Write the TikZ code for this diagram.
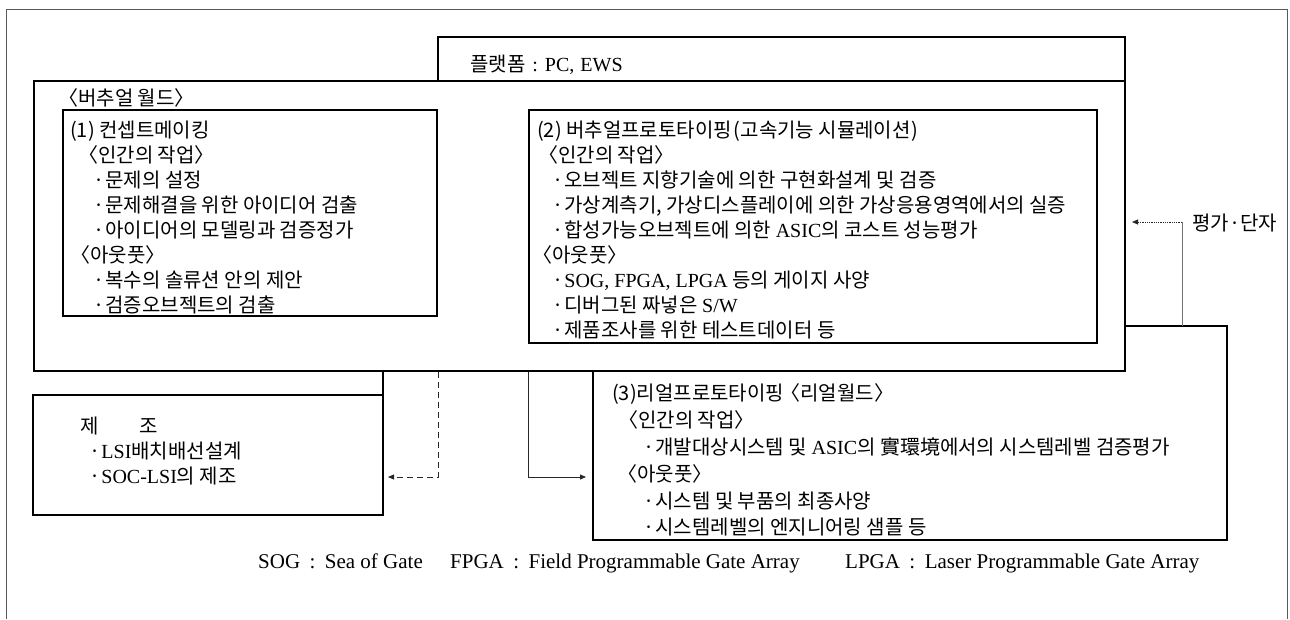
\documentclass[tikz,border=0pt]{standalone}
\usepackage{fontspec}
\setmainfont{Liberation Serif}
\newfontfamily\krf{Noto Sans CJK KR}
\newfontfamily\latf{Liberation Serif}
\usetikzlibrary{arrows.meta}
\newcommand\rmx[1]{{\latf\fontsize{20}{24}\selectfont #1}}
\newcommand\bul{·\hspace{1pt}}
\begin{document}
\begin{tikzpicture}[x=1pt,y=-1pt,
  boxline/.style={line width=2.5pt, line join=miter},
  frameline/.style={line width=1pt, black!65},
  conn/.style={line width=0.8pt, black!85},
  tip/.style={-{Triangle[length=6pt,width=5pt]}},
  txt/.style={anchor=base west, inner sep=0pt, font=\krf\fontsize{20}{24}\selectfont},
  legend/.style={anchor=base west, inner sep=0pt, font=\latf\fontsize{21}{24}\selectfont}
]
\useasboundingbox (0,0) rectangle (1290,619);
% outer frame (open at the bottom)
\draw[frameline] (6,619) -- (6,9) -- (1287,9) -- (1287,619);
% named corner coordinates
\coordinate (vwNW) at (34,81);   \coordinate (vwSE) at (1125,371);
\coordinate (plNW) at (438,37);  \coordinate (plSE) at (1125,81);
\coordinate (b1NW) at (63,110);  \coordinate (b1SE) at (437,316);
\coordinate (b2NW) at (529,110); \coordinate (b2SE) at (1097,343);
\coordinate (mfNW) at (33,395);  \coordinate (mfSE) at (383,515);
% boxes
\draw[boxline] (plNW) rectangle (plSE);
\draw[boxline] (vwNW) rectangle (vwSE);
\draw[boxline] (b1NW) rectangle (b1SE);
\draw[boxline] (b2NW) rectangle (b2SE);
\draw[boxline] (mfNW) rectangle (mfSE);
\draw[boxline] (383,371) -- (383,395);
\draw[boxline] (593,371) -- (1125,371) -- (1125,326) -- (1227,326) -- (1227,540) -- (593,540) -- cycle;
% connector coordinates
\coordinate (dA) at (438,372); \coordinate (dB) at (438,477); \coordinate (dC) at (388,477);
\coordinate (sA) at (528,372); \coordinate (sB) at (528,477); \coordinate (sC) at (586,477);
\coordinate (eA) at (1182,326); \coordinate (eB) at (1182,222); \coordinate (eC) at (1132,222);
\draw[conn, dashed, dash pattern=on 6pt off 4pt, tip] (dA) -- (dB) -- (dC);
\draw[conn, tip] (sA) -- (sB) -- (sC);
\draw[line width=0.8pt, black!55] (eA) -- (eB);
\draw[conn, densely dotted, tip] (eB) -- (eC);
% platform
\node[txt] (pl) at (470,71) {플랫폼\hspace{7pt}\rmx{:\hspace{7pt}PC,\hspace{6pt}EWS}};
% virtual world
\node[txt] (vw) at (58,105) {〈버추얼 월드〉};
% box 1
\node[txt] (a0) at (70,137) {(1) 컨셉트메이킹};
\node[txt] (a1) at (78,162) {〈인간의 작업〉};
\node[txt] (a2) at (93,187) {\bul 문제의 설정};
\node[txt] (a3) at (93,212) {\bul 문제해결을 위한 아이디어 검출};
\node[txt] (a4) at (93,237) {\bul 아이디어의 모델링과 검증정가};
\node[txt] (a5) at (70,262) {〈아웃풋〉};
\node[txt] (a6) at (93,287) {\bul 복수의 솔류션 안의 제안};
\node[txt] (a7) at (93,312) {\bul 검증오브젝트의 검출};
% box 2
\node[txt] (b0) at (537,137) {(2) 버추얼프로토타이핑\hspace{2pt}(고속기능 시뮬레이션\hspace{1pt})};
\node[txt] (b1) at (538,162) {〈인간의 작업〉};
\node[txt] (b2) at (552,187) {\bul 오브젝트 지향기술에 의한 구현화설계 및 검증};
\node[txt] (b3) at (552,212) {\bul 가상계측기, 가상디스플레이에 의한 가상응용영역에서의 실증};
\node[txt] (b4) at (552,237) {\bul 합성가능오브젝트에 의한 \rmx{ASIC}의 코스트 성능평가};
\node[txt] (b5) at (532,262) {〈아웃풋〉};
\node[txt] (b6) at (552,287) {\bul \rmx{SOG, FPGA, LPGA} 등의 게이지 사양};
\node[txt] (b7) at (552,312) {\bul 디버그된 짜넣은 \rmx{S/W}};
\node[txt] (b8) at (552,337) {\bul 제품조사를 위한 테스트데이터 등};
% box 3
\node[txt] (c0) at (612,400) {(3)리얼프로토타이핑 \kern-8pt〈리얼월드〉};
\node[txt] (c1) at (618,427) {〈인간의 작업〉};
\node[txt] (c2) at (643,454) {\bul 개발대상시스템 및 \rmx{ASIC}의 實環境에서의 시스템레벨 검증평가};
\node[txt] (c3) at (617,481) {〈아웃풋〉};
\node[txt] (c4) at (643,508) {\bul 시스템 및 부품의 최종사양};
\node[txt] (c5) at (643,534) {\bul 시스템레벨의 엔지니어링 샘플 등};
% manufacturing
\node[txt] (m0) at (80,433) {제\hspace{41pt}조};
\node[txt] (m1) at (89,458) {\bul \rmx{LSI}배치배선설계};
\node[txt] (m2) at (89,483) {\bul \rmx{SOC-LSI}의 제조};
% evaluation label
\node[txt] (ev) at (1192,230) {평가·단자};
% legend
\node[legend] (lg1) at (258,568) {SOG\hspace{0.45em}:\hspace{0.45em}Sea of Gate};
\node[legend] (lg2) at (450,568) {FPGA\hspace{0.45em}:\hspace{0.45em}Field Programmable Gate Array};
\node[legend] (lg3) at (845,568) {LPGA\hspace{0.45em}:\hspace{0.45em}Laser Programmable Gate Array};
\end{tikzpicture}
\end{document}
